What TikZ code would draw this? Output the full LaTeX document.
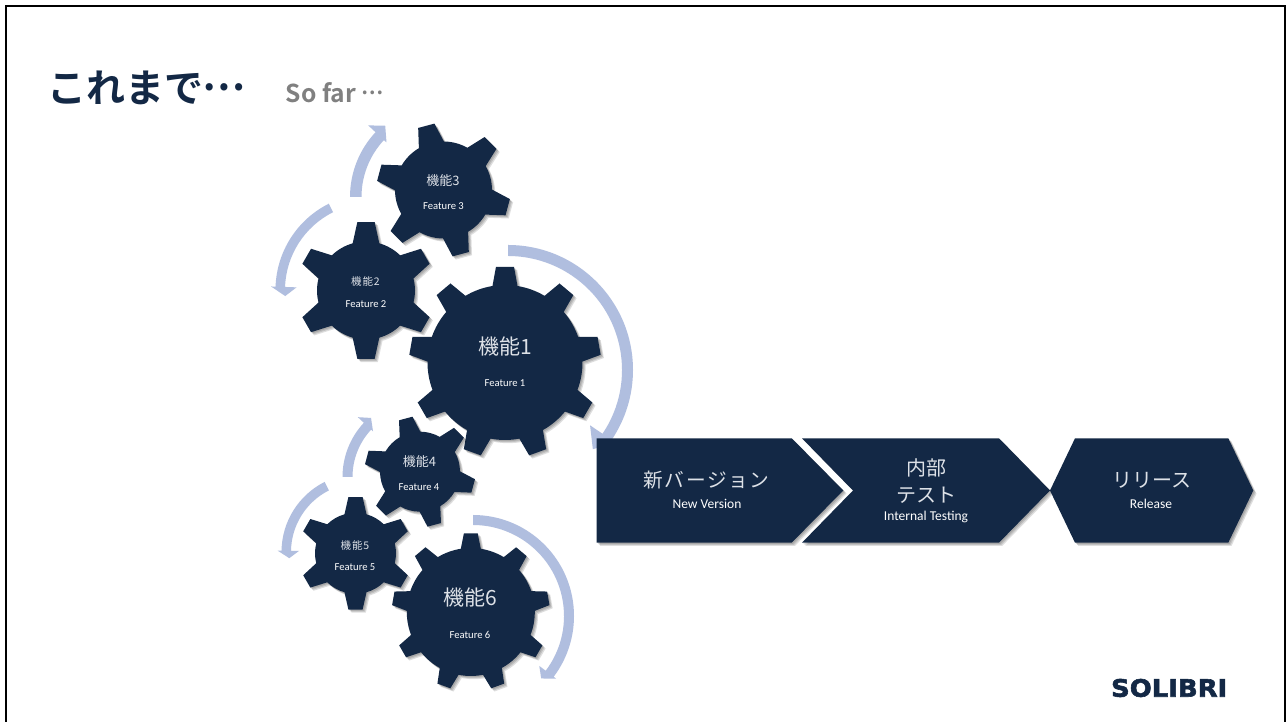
\documentclass[tikz,border=0pt]{standalone}
\usepackage{fontspec}
\setmainfont{Carlito}
\newfontfamily\jp{Noto Sans CJK JP}
\newfontfamily\jpw[LetterSpace=8]{Noto Sans CJK JP}
\newfontfamily\jpb{Noto Sans CJK JP Bold}
\newfontfamily\logofont[FakeBold=2.4,FakeStretch=1.08]{DejaVu Sans Bold}
\definecolor{navy}{HTML}{132845}
\definecolor{flowblue}{HTML}{B0BEDF}
\definecolor{jpgrey}{HTML}{DDE1E7}
\tikzset{
  x=1pt,y=1pt,
  flowfill/.style={fill=flowblue},
  navyfill/.style={fill=navy},
  softshadow/.style={fill=black,opacity=.13},
  big/.style={text=jpgrey,inner sep=0,font=\jp\fontsize{21}{25}\selectfont},
  mid/.style={text=jpgrey,inner sep=0,font=\jp\fontsize{13}{16}\selectfont},
  small/.style={text=jpgrey,inner sep=0,font=\jpw\fontsize{10.5}{13}\selectfont},
  feat/.style={text=white,inner sep=0,font=\fontsize{10.6}{12}\selectfont},
  stagejp/.style={text=jpgrey,inner sep=0,align=center,font=\jp\fontsize{20}{26.5}\selectfont},
  stagejpw/.style={text=jpgrey,inner sep=0,font=\jpw\fontsize{19.7}{24}\selectfont},
  stageen/.style={text=white,inner sep=0,font=\fontsize{13.5}{15}\selectfont},
}
\newcommand\gearfill[9]{%
  \fill[#1,shift={(#2,722-#3)}] ({#5+#8}:#6)
  \foreach \k in {1,...,#4}{
    -- ({#5-(\k-1)*360/#4+\gearta}:\gearT)
    -- ({#5-(\k-1)*360/#4-\gearta}:\gearT)
    -- ({#5-(\k-1)*360/#4-#8}:#6)
    arc[start angle={#5-(\k-1)*360/#4-#8},end angle={#5-\k*360/#4+#8},radius=#6]
  } -- cycle;}
% cx, y, teeth, angle, R, tipR, base half, tip half
\newcommand\gearat[8]{%
  \def\gearT{#6}\def\gearta{#8}%
  \begin{scope}[xshift=1.2pt,yshift=-1.2pt]\gearfill{softshadow}{#1}{#2}{#3}{#4}{#5}{}{#7}{}\end{scope}%
  \begin{scope}[xshift=2.2pt,yshift=-2.2pt]\gearfill{softshadow}{#1}{#2}{#3}{#4}{#5}{}{#7}{}\end{scope}%
  \begin{scope}[xshift=3.2pt,yshift=-3.2pt]\gearfill{softshadow}{#1}{#2}{#3}{#4}{#5}{}{#7}{}\end{scope}%
  \gearfill{navyfill}{#1}{#2}{#3}{#4}{#5}{}{#7}{}}
% cx, y, Ri, Ro, a0, a1, a2, wing inner, wing outer, then tip R in \flowtip
\newcommand\flow[9]{%
  \fill[flowfill,shift={(#1,722-#2)}] (#5:#4) arc[start angle=#5,end angle=#6,radius=#4]
    -- (#6:#9) -- (#7:\flowtip) -- (#6:#8) -- (#6:#3) arc[start angle=#6,end angle=#5,radius=#3] -- cycle;}
\newcommand\shadowed[1]{%
  \fill[softshadow,shift={(1.2,-1.2)}] #1;
  \fill[softshadow,shift={(2.2,-2.2)}] #1;
  \fill[softshadow,shift={(3.2,-3.2)}] #1;
  \fill[navyfill] #1;}
\begin{document}
\begin{tikzpicture}
\useasboundingbox (0,0) rectangle (1286,722);
\fill[white] (0,0) rectangle (1286,722);
\draw[black,line width=2pt] (6,0) -- (6,716) -- (1284.5,716) -- (1284.5,0);

\node[anchor=west,inner sep=0,text=navy,font=\jpb\fontsize{39}{44}\selectfont] (title) at (47.5,634) {これまで\kern-1pt\raisebox{.3em}{…}};
\node[anchor=west,inner sep=0,text=black!50,font=\jpb\fontsize{24.6}{28}\selectfont] (sofar) at (285.5,629.5) {So far \raisebox{.3em}{\fontsize{20}{24}\selectfont …}};

% flow arrows
\def\flowtip{116}\flow{508}{370}{114}{125}{90}{-34}{-43}{99}{131}
\def\flowtip{92.5}\flow{473}{616}{91}{101}{90}{-37}{-42.5}{83}{104}
\def\flowtip{87}\flow{372}{290}{87}{96.5}{116.6}{178}{184}{75.5}{101}
\def\flowtip{93}\flow{445}{197}{83.5}{95}{180}{137}{130}{80}{105}
\def\flowtip{78}\flow{422}{477}{69.5}{79.5}{180}{137}{130.8}{67}{87.7}
\def\flowtip{71}\flow{360}{552}{69}{78.5}{116.8}{179}{185}{61}{82.5}

% gears
\gearat{443.5}{190}{6}{105}{48.5}{67}{15.5}{7.2}
\gearat{366}{290.5}{6}{90}{49}{69}{15.8}{7.2}
\gearat{505}{362.5}{9}{90}{77.5}{96}{9.3}{5.4}
\gearat{420}{471.7}{6}{105}{40}{55.5}{15.5}{7.2}
\gearat{355.5}{553.3}{6}{90}{40.5}{56.7}{15.8}{7.2}
\gearat{470.8}{612}{9}{90}{64}{79}{9}{5}

% stages
\shadowed{(596.7,283.7) -- (791.7,283.7) -- (843.3,231.5) -- (791.7,179.3) -- (596.7,179.3) -- cycle}
\shadowed{(802,283.7) -- (999,283.7) -- (1050,231.5) -- (999,179.3) -- (802,179.3) -- (853,231.5) -- cycle}
\shadowed{(1050,231.5) -- (1075,283.7) -- (1228.3,283.7) -- (1253.3,231.5) -- (1228.3,179.3) -- (1075,179.3) -- cycle}

% gear labels
\node[big] (g1) at (505,375) {機能1};
\node[feat] (f1) at (505,338.5) {Feature 1};
\node[small] (g2) at (365.5,440) {機能2};
\node[feat] (f2) at (366,418) {Feature 2};
\node[mid] (g3) at (443,541) {機能3};
\node[feat] (f3) at (443.5,515.5) {Feature 3};
\node[mid] (g4) at (419.5,260.5) {機能4};
\node[feat] (f4) at (419,234.5) {Feature 4};
\node[small] (g5) at (355,176) {機能5};
\node[feat] (f5) at (355,154.5) {Feature 5};
\node[big] (g6) at (470.5,124) {機能6};
\node[feat] (f6) at (470,87.5) {Feature 6};

% stage labels
\node[stagejpw] (s1) at (706.5,242) {新バージョン};
\node[stageen] (e1) at (707,218.5) {New Version};
\node[stagejp] (s2) at (926,241) {内部\\テスト};
\node[stageen] (e2) at (926,205) {Internal Testing};
\node[stagejp] (s3) at (1151.5,242) {リリース};
\node[stageen] (e3) at (1151,218.5) {Release};

\node[anchor=east,inner sep=0,text=navy,font=\logofont\fontsize{24}{26}\selectfont] (logo) at (1227.5,34) {SOLIBRI};
\end{tikzpicture}
\end{document}
